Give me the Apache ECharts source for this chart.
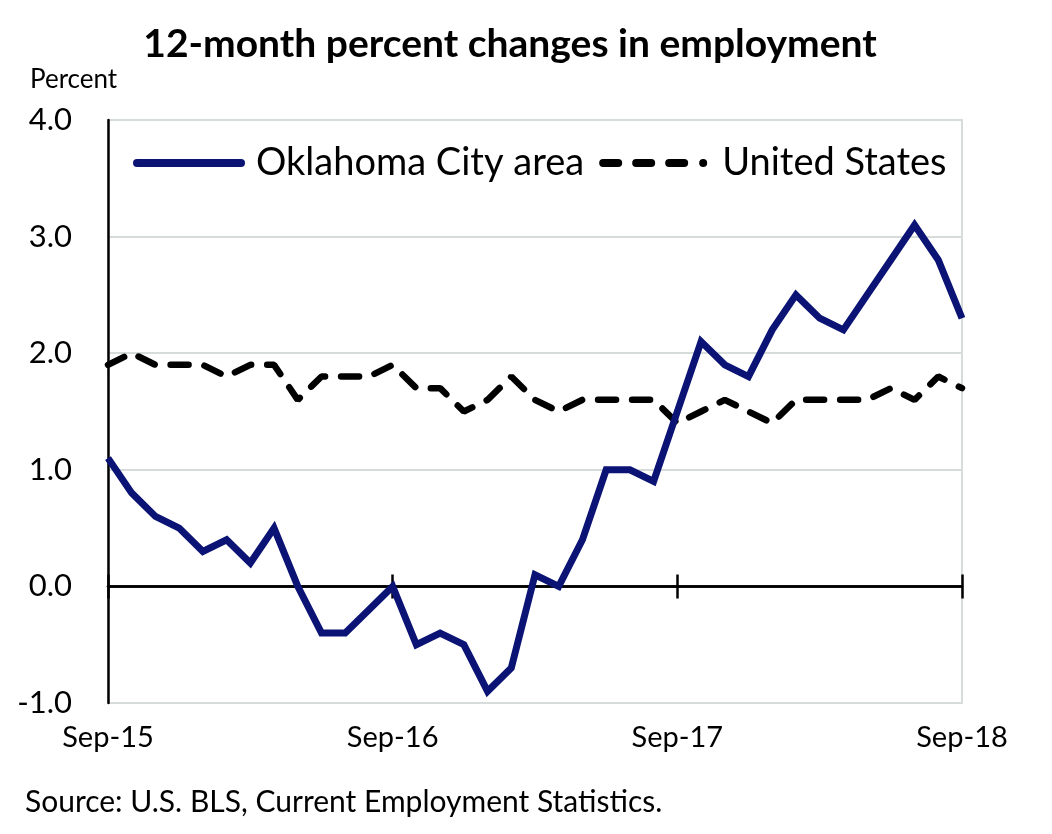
<!DOCTYPE html>
<html><head><meta charset="utf-8">
<script src="https://cdn.jsdelivr.net/npm/echarts@6/dist/echarts.min.js"></script>
<style>html,body{margin:0;padding:0;background:#fff}#c{width:1052px;height:834px}</style>
</head><body><div id="c"></div>
<script>
const months = ['Sep-15','Oct-15','Nov-15','Dec-15','Jan-16','Feb-16','Mar-16','Apr-16','May-16','Jun-16','Jul-16','Aug-16',
'Sep-16','Oct-16','Nov-16','Dec-16','Jan-17','Feb-17','Mar-17','Apr-17','May-17','Jun-17','Jul-17','Aug-17',
'Sep-17','Oct-17','Nov-17','Dec-17','Jan-18','Feb-18','Mar-18','Apr-18','May-18','Jun-18','Jul-18','Aug-18','Sep-18'];
const tickLabels = ['Sep-15','Sep-16','Sep-17','Sep-18'];
const okc = [1.1,0.8,0.6,0.5,0.3,0.4,0.2,0.5,0.0,-0.4,-0.4,-0.2,
0.0,-0.5,-0.4,-0.5,-0.9,-0.7,0.1,0.0,0.4,1.0,1.0,0.9,
1.5,2.1,1.9,1.8,2.2,2.5,2.3,2.2,2.5,2.8,3.1,2.8,2.3];
const us = [1.9,2.0,1.9,1.9,1.9,1.8,1.9,1.9,1.6,1.8,1.8,1.8,
1.9,1.7,1.7,1.5,1.6,1.8,1.6,1.5,1.6,1.6,1.6,1.6,
1.4,1.5,1.6,1.5,1.4,1.6,1.6,1.6,1.6,1.7,1.6,1.8,1.7];

const FONT = 'Lato';
const NAVY = '#0b1475';
function seg(x0, x1) {
  return 'M' + (x0 + 4) + ',0 H' + (x1 - 4) + ' A4,4 0 0 1 ' + (x1 - 4) + ',8 H' + (x0 + 4) + ' A4,4 0 0 1 ' + (x0 + 4) + ',0 Z ';
}
const solidIcon = 'path://' + seg(0, 112);
const dashIcon = 'path://' + seg(0, 23) + seg(33, 56) + seg(66, 89) + 'M100,4 A4,4 0 1 1 108,4 A4,4 0 1 1 100,4 Z M111.9,4 L112,4 L112,4.1 Z';

const chart = echarts.init(document.getElementById('c'));
const tickInt = (i) => i % 12 === 0;
chart.setOption({
  animation: false,
  title: [
    {text: '12-month percent changes in employment', left: 505, top: 20, textAlign: 'center',
     textStyle: {fontFamily: FONT, fontWeight: 'bold', fontSize: 39, color: '#000'}},
    {text: 'Percent', left: 25, top: 62, textStyle: {fontFamily: FONT, fontWeight: 'normal', fontSize: 26, color: '#000'}},
    {text: 'Source: U.S. BLS, Current Employment Statistics.', left: 20, top: 782,
     textStyle: {fontFamily: FONT, fontWeight: 'normal', fontSize: 30, color: '#000'}}
  ],
  legend: {
    left: 128, top: 139, itemWidth: 112, itemHeight: 8, itemGap: 15,
    textStyle: {fontFamily: FONT, fontSize: 38, color: '#000', padding: [0, 0, 0, 6]},
    data: [
      {name: 'Oklahoma City area', icon: solidIcon, itemStyle: {color: NAVY}},
      {name: 'United States', icon: dashIcon, itemStyle: {color: '#000'}}
    ]
  },
  grid: {left: 108, right: 90, top: 120, bottom: 131, show: true, borderColor: '#d5dcda', borderWidth: 2},
  xAxis: [
    {type: 'category', data: months, boundaryGap: false, position: 'bottom',
     axisLine: {show: false, onZero: false}, axisTick: {show: false},
     axisLabel: {interval: 0, formatter: (v, i) => tickLabels.includes(v) && tickInt(i) ? v : '',
       fontFamily: FONT, fontSize: 29, color: '#000', margin: 20},
     splitLine: {show: false}},
    {type: 'category', data: months, boundaryGap: false, position: 'bottom',
     axisLine: {show: true, onZero: true, onZeroAxisIndex: 0, lineStyle: {color: '#000', width: 2.5}},
     axisTick: {show: true, interval: (i) => tickInt(i), length: 12, inside: false, lineStyle: {color: '#000', width: 2.5}},
     axisLabel: {show: false}, splitLine: {show: false}},
    {type: 'category', data: months, boundaryGap: false, position: 'bottom',
     axisLine: {show: true, onZero: true, onZeroAxisIndex: 1, lineStyle: {color: '#000', width: 2.5}},
     axisTick: {show: true, interval: (i) => tickInt(i), length: 12, inside: true, lineStyle: {color: '#000', width: 2.5}},
     axisLabel: {show: false}, splitLine: {show: false}}
  ],
  yAxis: [
    {type: 'value', min: -1, max: 4, interval: 1,
     axisLine: {show: true, onZero: false, lineStyle: {color: '#000', width: 2.5}},
     axisTick: {show: false},
     axisLabel: {formatter: (v) => v.toFixed(1), fontFamily: FONT, fontSize: 31, color: '#000', margin: 36},
     splitLine: {lineStyle: {color: '#d5dcda', width: 2}}},
    {type: 'value', min: -1, max: 4, interval: 1, position: 'left',
     axisLine: {show: false, onZero: false}, axisTick: {show: false},
     axisLabel: {show: false}, splitLine: {show: false}}
  ],
  series: [
    {name: 'Oklahoma City area', type: 'line', data: okc, xAxisIndex: 0, yAxisIndex: 0, symbol: 'none',
     lineStyle: {color: NAVY, width: 7, join: 'miter'}, itemStyle: {color: NAVY}, z: 3},
    {name: 'United States', type: 'line', data: us, xAxisIndex: 0, yAxisIndex: 0, symbol: 'none',
     lineStyle: {color: '#000', width: 6.5, type: [18, 16], cap: 'round'}, itemStyle: {color: '#000'}, z: 2}
  ]
});
</script></body></html>
